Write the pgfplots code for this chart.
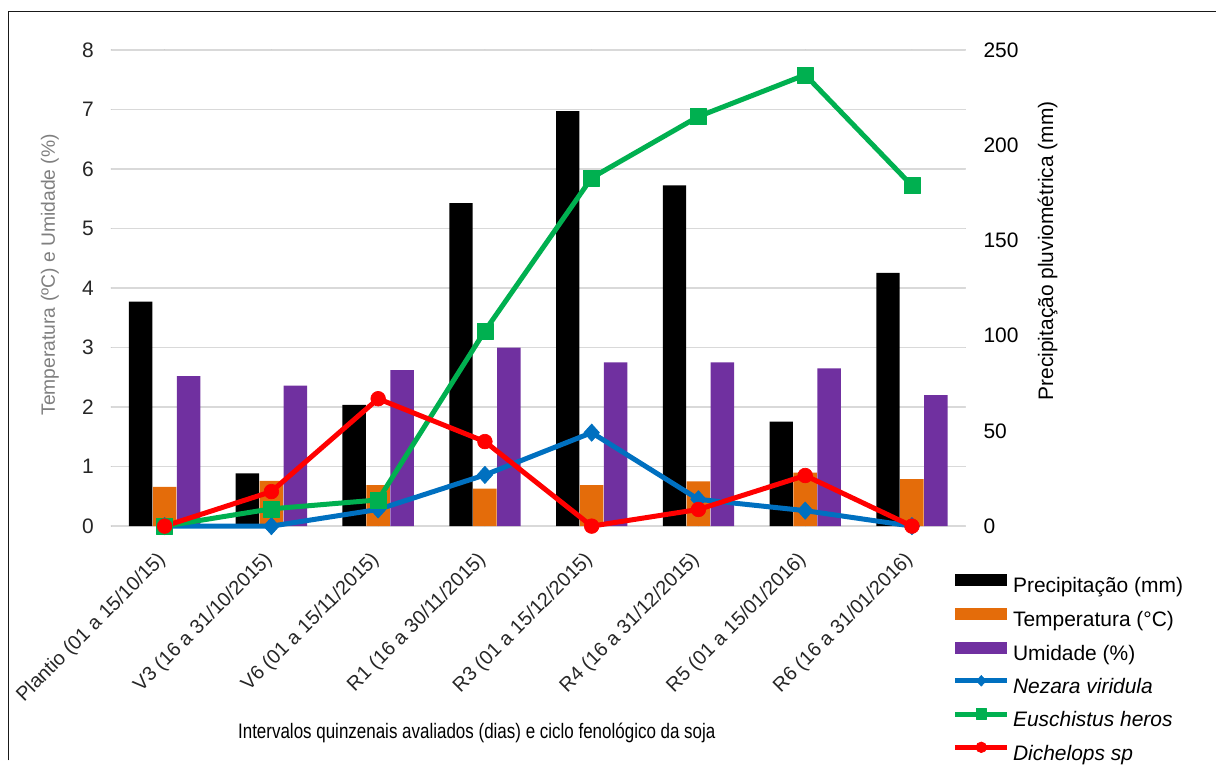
\documentclass[border=0pt]{standalone}
\usepackage{pgfplots}
\pgfplotsset{compat=1.18}
\usepackage{pgfplotstable}
\usepackage{fontspec}
\setmainfont{Liberation Sans}
\newfontfamily\narrowfont[FakeStretch=0.81]{Liberation Sans}

\definecolor{temporange}{HTML}{E46C0A}
\definecolor{umidpurple}{HTML}{7030A0}
\definecolor{nezblue}{HTML}{0070C0}
\definecolor{eusgreen}{HTML}{00B050}
\definecolor{dicred}{HTML}{FF0000}
\definecolor{gridgray}{HTML}{D9D9D9}
\definecolor{titlegray}{HTML}{7F7F7F}
\definecolor{ticktext}{HTML}{262626}

\newcommand{\chartfont}{\fontsize{15.75}{18}\selectfont}

% prec in mm (right scale); the others on the left scale
\pgfplotstableread{
idx prec  temp umid nezara euschistus dichelops
0   117.8 0.66 2.52 0.00   0.00       0.00
1   27.7  0.76 2.36 0.00   0.29       0.58
2   63.7  0.69 2.62 0.28   0.44       2.14
3   169.6 0.63 3.00 0.86   3.28       1.42
4   217.9 0.69 2.75 1.57   5.85       0.00
5   178.8 0.75 2.75 0.45   6.88       0.28
6   54.8  0.90 2.65 0.26   7.58       0.85
7   132.9 0.79 2.20 0.00   5.72       0.00
}\dados

\pgfplotsset{
  barkey/.style={
    legend image code/.code={\fill[##1] (0pt,1.1pt) rectangle (39pt,10.1pt);}},
  linekey/.style={
    legend image code/.code={\draw[##1, mark repeat=2, mark phase=2]
      plot coordinates {(0pt,5.6pt) (19.5pt,5.6pt) (39pt,5.6pt)};}},
}

\begin{document}
\begin{tikzpicture}
% page frame in pixel units, origin at the top left corner
\begin{scope}[shift={(-83.625pt,395.475pt)}, x=0.75pt, y=-0.75pt]
  \useasboundingbox (0,0) rectangle (1217,760);
\end{scope}

\begin{axis}[
  at={(0,0)}, anchor=south west,
  scale only axis, width=642pt, height=358pt,
  xmin=-0.5, xmax=7.5, ymin=0, ymax=8,
  xtick={0,...,7},
  xticklabels={Plantio (01 a 15/10/15), V3 (16 a 31/10/2015), V6 (01 a 15/11/2015),
    R1 (16 a 30/11/2015), R3 (01 a 15/12/2015), R4 (16 a 31/12/2015),
    R5 (01 a 15/01/2016), R6 (16 a 31/01/2016)},
  ytick={0,...,8},
  axis line style={draw=none},
  major tick length=0pt,
  ymajorgrids, grid style={gridgray, line width=1pt},
  /pgf/number format/assume math mode=true,
  tick label style={font=\chartfont, text=ticktext},
  yticklabel style={anchor=east, inner sep=0pt, xshift=-13pt},
  xticklabel style={font=\fontsize{14.9}{17}\selectfont,
    xshift=-6.6pt, yshift=-18pt, rotate=45, anchor=north east, inner sep=0pt},
  xlabel={\narrowfont\chartfont Intervalos quinzenais avaliados (dias) e ciclo fenológico da soja},
  xlabel style={at={(axis description cs:0.428,-0.434)}, anchor=center},
  ylabel={Temperatura (ºC) e Umidade (\%)},
  ylabel style={at={(axis description cs:-0.0718,0.5276)}, anchor=center,
    font=\fontsize{14.5}{17}\selectfont, text=titlegray},
  clip=false,
  legend cell align=left,
  legend style={draw=none, fill=none, at={(0.9854,-0.0999)}, anchor=north west,
    inner sep=0pt, outer sep=0pt, font=\chartfont, row sep=7.9pt, column sep=2.5pt,
    nodes={inner sep=0pt, text height=11.5pt, text depth=3.5pt}},
  legend image post style={mark size=4pt},
  line join=round, line cap=round,
]
\addplot[ybar, bar width=17.6pt, bar shift=-18pt, fill=black, draw=none, barkey]
  table[x=idx, y expr=\thisrow{prec}*8/250] {\dados};
\addlegendentry{Precipitação (mm)}
\addplot[ybar, bar width=17.6pt, bar shift=0pt, fill=temporange, draw=none, barkey]
  table[x=idx, y=temp] {\dados};
\addlegendentry{Temperatura (°C)}
\addplot[ybar, bar width=17.6pt, bar shift=18pt, fill=umidpurple, draw=none, barkey]
  table[x=idx, y=umid] {\dados};
\addlegendentry{Umidade (\%)}
\addplot[nezblue, line width=3.75pt, mark=diamond*, mark size=6.5pt,
  mark options={solid, fill=nezblue, line width=0.5pt, xscale=1.2}, linekey]
  table[x=idx, y=nezara] {\dados};
\addlegendentry{\itshape Nezara viridula}
\addplot[eusgreen, line width=3.75pt, mark=square*, mark size=6pt,
  mark options={solid, fill=eusgreen, line width=0.5pt}, linekey]
  table[x=idx, y=euschistus] {\dados};
\addlegendentry{\itshape Euschistus heros}
\addplot[dicred, line width=3.75pt, mark=*, mark size=5.5pt,
  mark options={solid, fill=dicred, line width=0.5pt}, linekey]
  table[x=idx, y=dichelops] {\dados};
\addlegendentry{\itshape Dichelops sp}
\end{axis}

% right-hand scale for the rainfall
\begin{axis}[
  at={(0,0)}, anchor=south west,
  scale only axis, width=642pt, height=358pt,
  xmin=-0.5, xmax=7.5, ymin=0, ymax=250,
  ytick={0,50,...,250},
  hide x axis,
  axis y line*=right,
  axis line style={draw=none},
  major tick length=0pt,
  /pgf/number format/assume math mode=true,
  tick label style={font=\chartfont, text=black},
  yticklabel style={anchor=west, inner sep=0pt, xshift=13.5pt},
  ylabel={Precipitação pluviométrica (mm)},
  ylabel style={at={(axis description cs:1.0964,0.578)}, anchor=center,
    font=\chartfont, text=black},
]
\addplot[draw=none] coordinates {(0,0)};
\end{axis}

\begin{scope}[shift={(-83.625pt,395.475pt)}, x=0.75pt, y=-0.75pt]
  \draw[line width=1.1pt, black!90] (8.3,762) -- (8.3,11.7) -- (1219,11.7);
\end{scope}
\end{tikzpicture}
\end{document}
